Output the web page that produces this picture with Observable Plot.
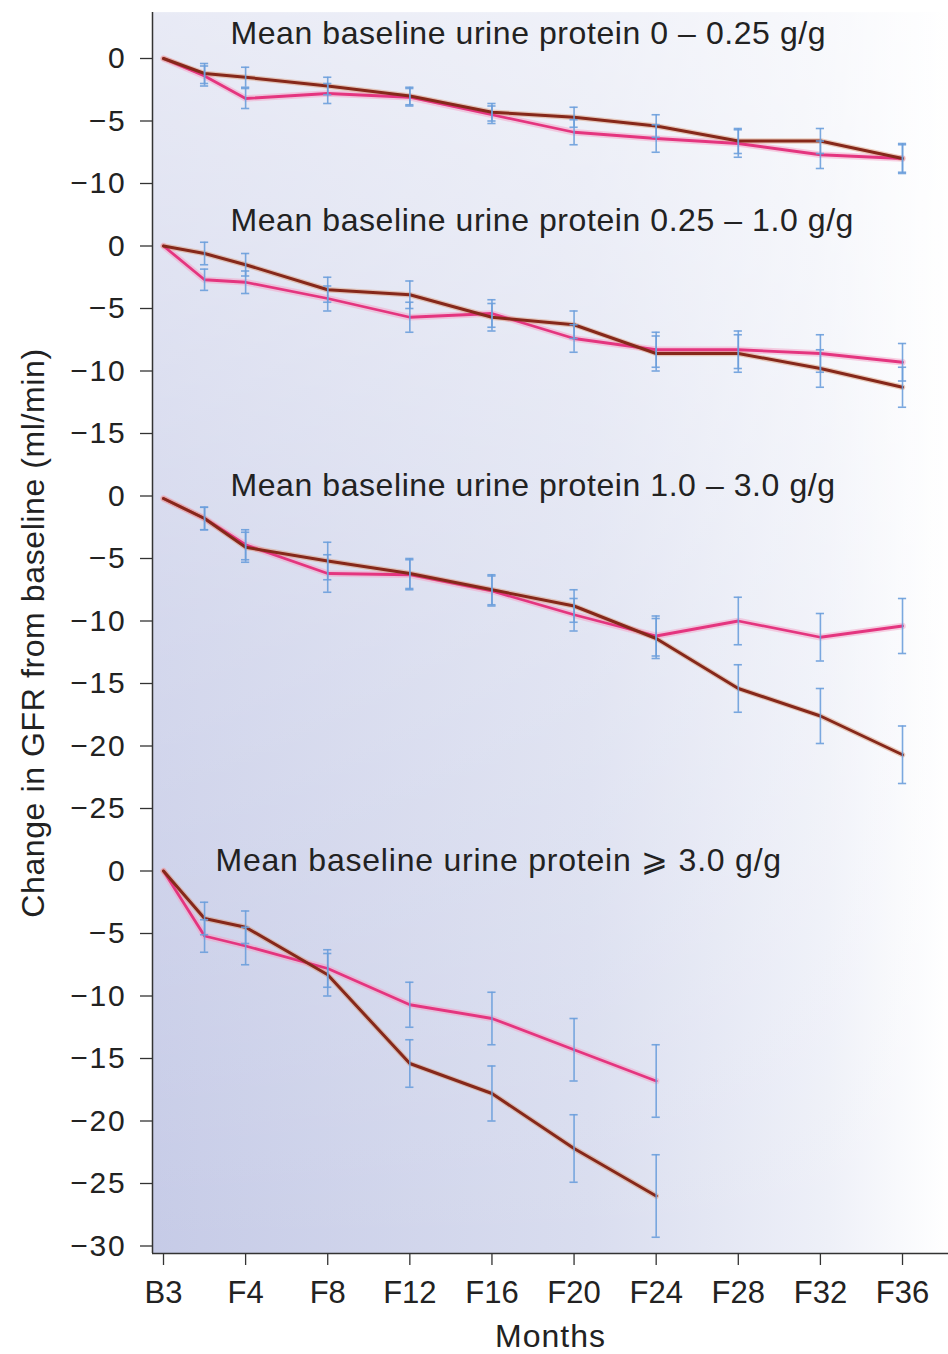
<!DOCTYPE html>
<html><head><meta charset="utf-8">
<script src="https://cdn.jsdelivr.net/npm/d3@7"></script>
<script src="https://cdn.jsdelivr.net/npm/@observablehq/plot@0.6"></script>
<style>
body{margin:0;background:#fff;}
#chart svg{display:block;}
.ttl text{letter-spacing:0.57px;}
.ttl4 text{letter-spacing:0.78px;}
.yax text{letter-spacing:1.8px;}
.ylab text{letter-spacing:0.6px;}
.xlab text{letter-spacing:1px;}
</style></head><body><div id="chart"></div>
<script>
// Visit months (B3 = 3 months before baseline, then follow-up visits)
const months = [-3, 0, 4, 8, 12, 16, 20, 24, 28, 32, 36];
const tickMonths = [-3, 4, 8, 12, 16, 20, 24, 28, 32, 36];
const tickLabels = ["B3", "F4", "F8", "F12", "F16", "F20", "F24", "F28", "F32", "F36"];

const panelTitles = [
  "Mean baseline urine protein 0 \u2013 0.25 g/g",
  "Mean baseline urine protein 0.25 \u2013 1.0 g/g",
  "Mean baseline urine protein 1.0 \u2013 3.0 g/g",
  "Mean baseline urine protein \u2a7e 3.0 g/g"
];
const panelAxisMin = [-10, -15, -25, -30];

// Panel 1: 0-0.25 g/g
const p1Brown   = [0, -1.2, -1.5, -2.2, -3.0, -4.3, -4.7, -5.4, -6.6, -6.6, -8.0];
const p1BrownSE = [0, 0.8, 0.8, 0.7, 0.7, 0.7, 0.8, 0.9, 1.0, 1.0, 1.1];
const p1Pink    = [0, -1.4, -3.2, -2.8, -3.1, -4.5, -5.9, -6.4, -6.8, -7.7, -8.0];
const p1PinkSE  = [0, 0.8, 0.8, 0.8, 0.7, 0.7, 1.0, 1.1, 1.1, 1.1, 1.2];
// Panel 2: 0.25-1.0 g/g
const p2Brown   = [0, -0.6, -1.5, -3.5, -3.9, -5.7, -6.3, -8.6, -8.6, -9.8, -11.3];
const p2BrownSE = [0, 0.9, 0.9, 1.0, 1.1, 1.1, 1.1, 1.4, 1.5, 1.5, 1.6];
const p2Pink    = [0, -2.7, -2.9, -4.2, -5.7, -5.4, -7.4, -8.3, -8.3, -8.6, -9.3];
const p2PinkSE  = [0, 0.85, 0.9, 1.0, 1.2, 1.1, 1.1, 1.4, 1.5, 1.5, 1.5];
// Panel 3: 1.0-3.0 g/g
const p3Brown   = [-0.2, -1.8, -4.1, -5.2, -6.2, -7.5, -8.8, -11.4, -15.4, -17.6, -20.7];
const p3BrownSE = [0, 0.9, 1.2, 1.5, 1.2, 1.2, 1.3, 1.6, 1.9, 2.2, 2.3];
const p3Pink    = [-0.2, -1.8, -3.9, -6.2, -6.3, -7.6, -9.5, -11.2, -10.0, -11.3, -10.4];
const p3PinkSE  = [0, 0.9, 1.2, 1.5, 1.2, 1.2, 1.3, 1.6, 1.9, 1.9, 2.2];
// Panel 4: >= 3.0 g/g (to F24)
const p4Brown   = [0, -3.8, -4.5, -8.3, -15.4, -17.8, -22.2, -26.0];
const p4BrownSE = [0, 1.3, 1.3, 1.7, 1.9, 2.2, 2.7, 3.3];
const p4Pink    = [0, -5.2, -6.0, -7.8, -10.7, -11.8, -14.3, -16.8];
const p4PinkSE  = [0, 1.3, 1.5, 1.5, 1.8, 2.1, 2.5, 2.9];

const series = [
  [p1Brown, p1BrownSE, p1Pink, p1PinkSE],
  [p2Brown, p2BrownSE, p2Pink, p2PinkSE],
  [p3Brown, p3BrownSE, p3Pink, p3PinkSE],
  [p4Brown, p4BrownSE, p4Pink, p4PinkSE]
];

// Stack panels along one vertical axis: each panel shifted by the extent of the ones above plus a gap of 5
const gap = 5;
const offsets = [];
{ let o = 0; panelAxisMin.forEach((m, i) => { offsets.push(o); o += m - gap; }); }

const rows = [];
series.forEach(([b, bse, p, pse], k) => {
  b.forEach((v, i) => rows.push({panel: k, grp: "brown", month: months[i], v, se: bse[i], y: v + offsets[k]}));
  p.forEach((v, i) => rows.push({panel: k, grp: "pink", month: months[i], v, se: pse[i], y: v + offsets[k]}));
});
const bars = rows.filter(d => d.se > 0);

const yTicks = [], yTickLab = new Map();
panelAxisMin.forEach((m, k) => {
  for (let t = 0; t >= m; t -= 5) { yTicks.push(t + offsets[k]); yTickLab.set(t + offsets[k], t === 0 ? "0" : "\u2212" + Math.abs(t)); }
});
const xLab = new Map(tickMonths.map((m, i) => [m, tickLabels[i]]));

// Visit slots: B3 and F4 are one step apart, with the baseline visit half way
const slot = d3.scaleLinear().domain([-3, 0, 4, 36]).range([0, 0.5, 1, 9]);

const yTop = 3.68, yBot = -95.6;
const xMin = -0.134, xMax = 9.56;
const font = "Liberation Sans, Arial, sans-serif";
const pink = "#e4357f", brown = "#86281a", blue = "#6b9fdb";
const capHalf = 0.05;

const titleMarks = panelTitles.map((t, k) => Plot.text([t], {
  x: -3, y: offsets[k], text: d => d, textAnchor: "start",
  dx: k === 3 ? 52 : 67, dy: k < 2 ? -25 : -10,
  fontSize: 32, fill: "#222", fontFamily: font, className: k === 3 ? "ttl4" : "ttl"
}));

const plot = Plot.plot({
  width: 948, height: 1354,
  marginLeft: 152, marginRight: 0, marginTop: 12, marginBottom: 101,
  style: {fontFamily: font, background: "transparent", overflow: "visible"},
  x: {type: "linear", transform: slot, domain: [xMin, xMax]},
  y: {domain: [yBot, yTop]},
  marks: [
    Plot.frame({fill: "url(#bgH)", stroke: "none"}),
    Plot.frame({fill: "url(#bgV)", stroke: "none"}),
    // halos
    Plot.line(rows.filter(d => d.grp === "pink"), {x: "month", y: "y", z: "panel", stroke: "#f3a2c6", strokeWidth: 6.5, strokeOpacity: 0.5}),
    Plot.line(rows.filter(d => d.grp === "brown"), {x: "month", y: "y", z: "panel", stroke: "#d9956e", strokeWidth: 5.5, strokeOpacity: 0.45}),
    Plot.line(rows.filter(d => d.grp === "pink"), {x: "month", y: "y", z: "panel", stroke: pink, strokeWidth: 2.8}),
    Plot.line(rows.filter(d => d.grp === "brown"), {x: "month", y: "y", z: "panel", stroke: brown, strokeWidth: 3}),
    // error bars
    Plot.ruleX(bars, {x: "month", y1: d => d.y - d.se, y2: d => d.y + d.se, stroke: blue, strokeWidth: 1.6, strokeOpacity: 0.9}),
    Plot.ruleY(bars, {y: d => d.y - d.se, x1: d => slot.invert(slot(d.month) - capHalf), x2: d => slot.invert(slot(d.month) + capHalf), stroke: blue, strokeWidth: 1.6, strokeOpacity: 0.9}),
    Plot.ruleY(bars, {y: d => d.y + d.se, x1: d => slot.invert(slot(d.month) - capHalf), x2: d => slot.invert(slot(d.month) + capHalf), stroke: blue, strokeWidth: 1.6, strokeOpacity: 0.9}),
    ...titleMarks,
    // axes
    Plot.ruleX([slot.invert(xMin)], {stroke: "#333", strokeWidth: 1.5}),
    Plot.ruleY([yBot], {stroke: "#333", strokeWidth: 1.5}),
    Plot.axisY(yTicks, {tickFormat: d => yTickLab.get(d), tickSize: 12, tickPadding: 14, fontSize: 30, stroke: "#333", strokeWidth: 1.3, fill: "#222", label: null, className: "yax"}),
    Plot.axisX(tickMonths, {tickFormat: d => xLab.get(d), tickSize: 12, tickPadding: 15, fontSize: 31, stroke: "#333", strokeWidth: 1.3, fill: "#222", label: null}),
    Plot.text(["Change in GFR from baseline (ml/min)"], {frameAnchor: "left", textAnchor: "middle", rotate: -90, dx: -119, fontSize: 32, fill: "#222", className: "ylab"}),
    Plot.text(["Months"], {frameAnchor: "bottom", dy: 93, fontSize: 32, fill: "#222", className: "xlab"})
  ]
});

const defs = d3.select(plot).insert("defs", ":first-child");
const gH = defs.append("linearGradient").attr("id", "bgH").attr("x1", 0).attr("y1", 0).attr("x2", 1).attr("y2", 0);
[[0, "#c6cbe7"], [0.55, "#d9ddef"], [0.85, "#eef0f8"], [1, "#ffffff"]].forEach(([o, c]) => gH.append("stop").attr("offset", o).attr("stop-color", c));
const gV = defs.append("linearGradient").attr("id", "bgV").attr("x1", 0).attr("y1", 0).attr("x2", 0).attr("y2", 1);
[[0, "#ffffff", 0.6], [0.5, "#ffffff", 0.25], [1, "#ffffff", 0]].forEach(([o, c, a]) => gV.append("stop").attr("offset", o).attr("stop-color", c).attr("stop-opacity", a));

document.getElementById("chart").appendChild(plot);
</script></body></html>
